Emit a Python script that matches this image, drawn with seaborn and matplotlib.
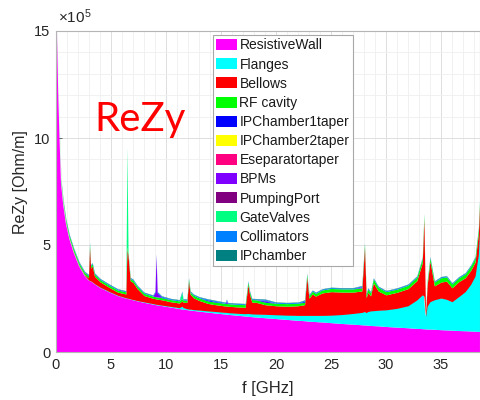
import numpy as np
import matplotlib
matplotlib.use("Agg")
import matplotlib.pyplot as plt
import seaborn as sns
from matplotlib.patches import Patch
from matplotlib.ticker import MultipleLocator

# ---------------- data (values in units of 1e5 Ohm/m) ----------------
freq = [0.0, 0.1, 0.2, 0.3, 0.45, 0.65, 0.9, 1.2, 1.6, 2.1,
        2.6, 2.95, 3.05, 3.15, 3.3, 3.5, 4.0, 4.8, 5.6, 6.35,
        6.45, 6.55, 6.75, 7.0, 7.4, 8.0, 8.8, 9.0, 9.1, 9.2,
        9.6, 10.4, 11.2, 11.45, 11.55, 11.9, 12.05, 12.2, 12.5, 13.0,
        13.8, 14.5, 15.4, 15.5, 15.6, 16.4, 17.2, 17.45, 17.6, 17.8,
        18.2, 19.0, 20.0, 21.0, 22.0, 22.6, 22.8, 23.0, 23.3, 23.6,
        24.2, 25.0, 26.0, 27.0, 27.8, 28.05, 28.2, 28.35, 28.6, 28.85,
        29.3, 30.0, 31.0, 32.0, 32.8, 33.3, 33.45, 33.6, 33.75, 34.0,
        34.4, 35.0, 35.5, 36.0, 36.6, 37.2, 37.7, 38.1, 38.4, 38.6]

resistive_wall = [20.0, 14.6, 12.1, 10.3, 7.9, 6.9, 6.0, 5.3, 4.65, 4.0,
                  3.55, 3.35, 3.32, 3.3, 3.25, 3.17, 3.0, 2.8, 2.62, 2.5,
                  2.49, 2.48, 2.45, 2.42, 2.37, 2.3, 2.22, 2.2, 2.19, 2.18,
                  2.15, 2.08, 2.01, 1.99, 1.98, 1.96, 1.95, 1.94, 1.92, 1.89,
                  1.84, 1.8, 1.75, 1.75, 1.74, 1.7, 1.66, 1.65, 1.64, 1.63,
                  1.61, 1.58, 1.54, 1.5, 1.46, 1.44, 1.43, 1.42, 1.41, 1.4,
                  1.38, 1.35, 1.31, 1.28, 1.25, 1.24, 1.24, 1.23, 1.22, 1.21,
                  1.2, 1.17, 1.14, 1.11, 1.08, 1.07, 1.06, 1.06, 1.05, 1.05,
                  1.04, 1.02, 1.01, 1.0, 0.98, 0.97, 0.96, 0.95, 0.94, 0.94]

flanges = [0.0, 0.0, 0.0, 0.0, 0.0, 0.01, 0.01, 0.01, 0.01, 0.02,
           0.02, 0.02, 0.02, 0.02, 0.02, 0.02, 0.03, 0.03, 0.03, 0.03,
           0.03, 0.03, 0.03, 0.03, 0.03, 0.04, 0.04, 0.04, 0.04, 0.04,
           0.04, 0.05, 0.06, 0.15, 0.1, 0.06, 0.06, 0.06, 0.06, 0.07,
           0.08, 0.09, 0.1, 0.1, 0.1, 0.11, 0.13, 0.15, 0.15, 0.15,
           0.16, 0.18, 0.2, 0.22, 0.25, 0.27, 0.28, 0.29, 0.3, 0.31,
           0.33, 0.37, 0.44, 0.52, 0.6, 0.65, 0.6, 0.66, 0.7, 0.72,
           0.75, 0.8, 0.9, 1.05, 1.35, 1.6, 1.55, 0.6, 1.1, 1.3,
           1.4, 1.5, 1.45, 1.35, 1.6, 1.85, 2.2, 2.6, 3.6, 5.5]

bellows = [0.0, 0.0, 0.0, 0.0, 0.01, 0.01, 0.02, 0.02, 0.03, 0.03,
           0.04, 0.1, 1.55, 0.6, 0.75, 0.35, 0.25, 0.2, 0.15, 0.18,
           2.3, 2.0, 0.85, 0.8, 0.55, 0.3, 0.25, 0.25, 0.25, 0.25,
           0.25, 0.22, 0.22, 0.25, 0.25, 0.3, 1.3, 0.7, 0.55, 0.45,
           0.35, 0.32, 0.3, 0.3, 0.3, 0.3, 0.3, 1.35, 0.9, 0.55,
           0.55, 0.45, 0.42, 0.42, 0.45, 0.5, 1.8, 0.8, 1.0, 0.9,
           1.05, 1.1, 1.05, 1.0, 1.0, 3.0, 0.7, 0.9, 0.7, 1.3,
           0.9, 0.7, 0.75, 0.8, 0.9, 1.5, 3.6, 0.1, 1.0, 1.9,
           0.65, 0.75, 0.85, 0.65, 0.7, 0.65, 0.65, 0.65, 1.0, 1.5]

rf_cavity = [0.0, 0.05, 0.08, 0.1, 0.12, 0.12, 0.12, 0.12, 0.12, 0.1,
             0.1, 0.1, 0.1, 0.1, 0.1, 0.1, 0.1, 0.1, 0.1, 0.1,
             0.1, 0.1, 0.1, 0.1, 0.1, 0.1, 0.1, 0.1, 0.1, 0.1,
             0.1, 0.1, 0.1, 0.1, 0.1, 0.1, 0.1, 0.1, 0.12, 0.12,
             0.12, 0.12, 0.12, 0.12, 0.12, 0.12, 0.12, 0.12, 0.12, 0.12,
             0.12, 0.12, 0.12, 0.12, 0.12, 0.12, 0.12, 0.12, 0.13, 0.13,
             0.14, 0.15, 0.15, 0.15, 0.15, 0.15, 0.15, 0.15, 0.15, 0.18,
             0.17, 0.15, 0.15, 0.16, 0.17, 0.2, 0.2, 0.05, 0.15, 0.15,
             0.18, 0.2, 0.2, 0.18, 0.18, 0.18, 0.2, 0.2, 0.2, 0.2]

# sparse components: value at the listed grid frequencies, zero elsewhere
ipchamber1taper_pts = {13.8: 0.04, 14.5: 0.03, 19.0: 0.05, 22.6: 0.05, 9.6: 0.03}
ipchamber2taper_pts = {}
eseparatortaper_pts = {}
bpms_pts = {9.0: 0.2, 9.1: 1.95, 9.2: 0.2, 15.5: 0.15, 19.0: 0.04, 27.8: 0.05}
pumpingport_pts = {}
gatevalves_pts = {3.05: 0.1, 6.45: 4.6, 11.45: 0.3}

collimators = [0.0, 0.02, 0.03, 0.04, 0.04, 0.04, 0.04, 0.04, 0.04, 0.04,
               0.04, 0.04, 0.04, 0.04, 0.04, 0.04, 0.04, 0.04, 0.04, 0.04,
               0.04, 0.04, 0.04, 0.04, 0.04, 0.04, 0.04, 0.04, 0.04, 0.04,
               0.04, 0.04, 0.04, 0.04, 0.04, 0.04, 0.04, 0.04, 0.04, 0.04,
               0.04, 0.04, 0.04, 0.04, 0.04, 0.04, 0.04, 0.04, 0.04, 0.04,
               0.04, 0.04, 0.04, 0.04, 0.04, 0.04, 0.04, 0.04, 0.04, 0.04,
               0.04, 0.04, 0.04, 0.04, 0.04, 0.04, 0.04, 0.04, 0.04, 0.04,
               0.04, 0.04, 0.04, 0.04, 0.04, 0.04, 0.04, 0.02, 0.04, 0.04,
               0.04, 0.04, 0.04, 0.04, 0.04, 0.04, 0.04, 0.04, 0.04, 0.04]

ipchamber = [0.0, 0.02, 0.02, 0.02, 0.02, 0.02, 0.02, 0.02, 0.02, 0.02,
             0.02, 0.02, 0.02, 0.02, 0.02, 0.02, 0.02, 0.02, 0.02, 0.02,
             0.02, 0.02, 0.02, 0.02, 0.02, 0.02, 0.02, 0.02, 0.02, 0.02,
             0.02, 0.02, 0.02, 0.02, 0.02, 0.02, 0.02, 0.02, 0.02, 0.02,
             0.02, 0.02, 0.02, 0.02, 0.02, 0.02, 0.02, 0.02, 0.02, 0.02,
             0.02, 0.02, 0.02, 0.02, 0.02, 0.02, 0.02, 0.02, 0.02, 0.02,
             0.02, 0.02, 0.02, 0.02, 0.02, 0.02, 0.02, 0.02, 0.02, 0.02,
             0.02, 0.02, 0.02, 0.02, 0.02, 0.02, 0.02, 0.01, 0.02, 0.02,
             0.02, 0.02, 0.02, 0.02, 0.02, 0.02, 0.02, 0.02, 0.02, 0.02]

names = ["ResistiveWall", "Flanges", "Bellows", "RF cavity", "IPChamber1taper",
         "IPChamber2taper", "Eseparatortaper", "BPMs", "PumpingPort",
         "GateValves", "Collimators", "IPchamber"]
colors = ["#FF00FF", "#00FFFF", "#FF0000", "#00FF00", "#0000FF",
          "#FFFF00", "#FF0080", "#8000FF", "#800080",
          "#00FF80", "#0080FF", "#008080"]
xticks = [0, 5, 10, 15, 20, 25, 30, 35]
yticks = [0, 5, 10, 15]


def on_grid(points):
    return [points.get(f, 0.0) for f in freq]


series = [resistive_wall, flanges, bellows, rf_cavity,
          on_grid(ipchamber1taper_pts), on_grid(ipchamber2taper_pts),
          on_grid(eseparatortaper_pts), on_grid(bpms_pts),
          on_grid(pumpingport_pts), on_grid(gatevalves_pts),
          collimators, ipchamber]

# ---------------- figure ----------------
sns.set_theme(style="white")
plt.rcParams["font.family"] = ["Liberation Sans", "DejaVu Sans"]
plt.rcParams["mathtext.fontset"] = "custom"
plt.rcParams["mathtext.rm"] = "Liberation Sans"

W, H = 481, 400
fig = plt.figure(figsize=(W / 100, H / 100), dpi=100)
fig.patch.set_facecolor("white")
L, R, T, B = 56, 480, 31, 352
ax = fig.add_axes([L / W, 1 - B / H, (R - L) / W, (B - T) / H])
ax.set_facecolor("white")

ax.stackplot(freq, *series, colors=colors, linewidth=0, antialiased=True)

ax.set_xlim(0, 38.55)
ax.set_ylim(0, 15)
ax.set_xticks(xticks)
ax.set_yticks(yticks)
ax.xaxis.set_minor_locator(MultipleLocator(1))
ax.yaxis.set_minor_locator(MultipleLocator(1))
ax.set_axisbelow(True)
ax.grid(which="major", color="#dedede", linewidth=0.7)
ax.grid(which="minor", color="#efefef", linewidth=0.6)
ax.tick_params(which="major", direction="in", length=4, width=0.6,
               color="#555555", labelsize=10.5, labelcolor="#262626",
               pad=4, top=False, right=False, bottom=True, left=True)
ax.tick_params(which="minor", length=0)
for s in ax.spines.values():
    s.set_color("#b4b4b4")
    s.set_linewidth(0.8)

ax.set_xlabel("f [GHz]", fontsize=12, color="#262626")
ax.xaxis.set_label_coords((268 - L) / (R - L), (B - 388) / (B - T))
ax.xaxis.label.set_va("center")
ax.set_ylabel("ReZy [Ohm/m]", fontsize=11.5, color="#262626")
ax.yaxis.set_label_coords((20 - L) / (R - L), (B - 182) / (B - T))
ax.yaxis.label.set_va("center")

fig.text(58 / W, 1 - 17 / H, r"$\mathregular{\times10^{5}}$", fontsize=11,
         color="#262626", va="center", ha="left")

fig.text(94 / W, 1 - 131 / H, "ReZy", color="#FF0000", fontsize=29,
         family=["Lato", "DejaVu Sans"], va="baseline", ha="left")

handles = [Patch(facecolor=c, edgecolor="none", label=n)
           for c, n in zip(colors, names)]
leg = ax.legend(handles=handles, loc="upper left",
                bbox_to_anchor=((213 - L) / (R - L), (B - 35) / (B - T)),
                fontsize=10, frameon=True, fancybox=False, framealpha=1,
                edgecolor="#a8a8a8", borderpad=0.25, borderaxespad=0,
                labelspacing=0.37, handlelength=1.45, handleheight=0.85,
                handletextpad=0.2)
leg.get_frame().set_linewidth(0.8)
for t in leg.get_texts():
    t.set_color("#1a1a1a")

fig.savefig("out.png", dpi=100, facecolor="white")
